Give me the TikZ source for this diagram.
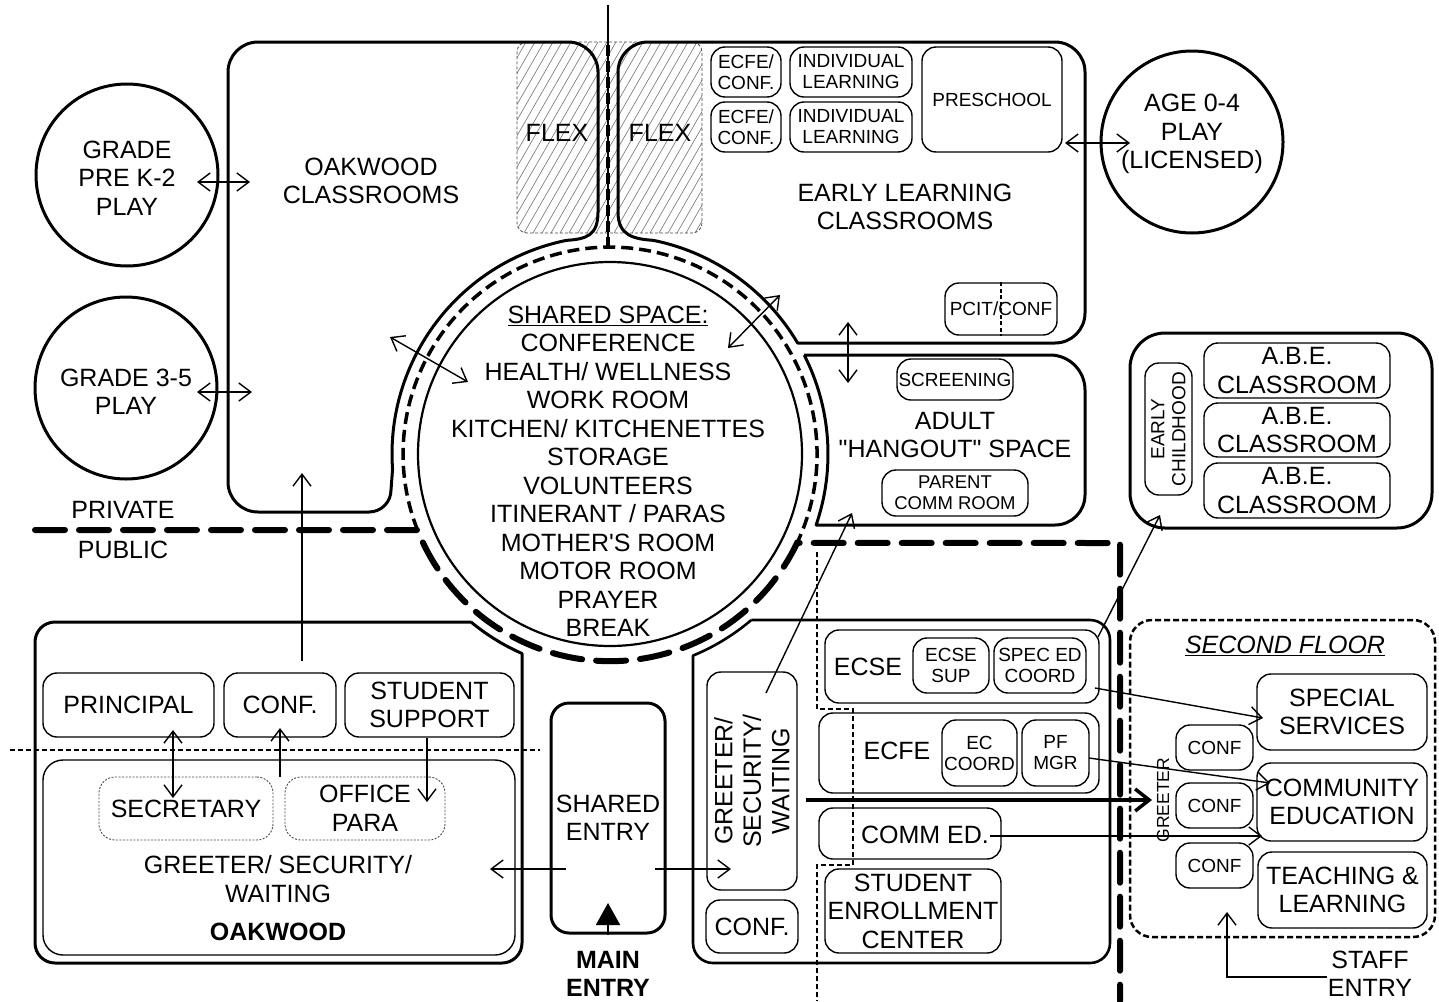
\documentclass[tikz,border=0pt]{standalone}
\usepackage{fontspec}
\setmainfont{Liberation Sans}
\newfontfamily\rawfont{Liberation Sans}
\usetikzlibrary{arrows.meta}
\tikzset{
  wall/.style={line width=3pt, line join=round},
  big/.style={font=\fontsize{25}{28.5}\selectfont, align=center, inner sep=0pt},
  sm/.style={font=\fontsize{19}{21}\selectfont, align=center, inner sep=0pt},
  box/.style={draw, line width=1.4pt, rounded corners=14pt, inner sep=0pt},
  dotbox/.style={draw=black!70, line width=0.9pt, dash pattern=on 2pt off 1.5pt, rounded corners=16pt, inner sep=0pt},
  play/.style={draw, circle, line width=3pt, inner sep=0pt, minimum size=182pt},
  arr/.style={line width=1.4pt, -{Straight Barb[length=12pt,width=18pt]}},
  darr/.style={line width=1.4pt, {Straight Barb[length=12pt,width=18pt]}-{Straight Barb[length=12pt,width=18pt]}},
  heavy/.style={line width=6pt, dash pattern=on 30pt off 14pt, line cap=round},
  ringdash/.style={line width=3.5pt, dash pattern=on 12pt off 6pt},
  thindash/.style={line width=2pt, dash pattern=on 5pt off 3pt},
}
\begin{document}
\begin{tikzpicture}[x=1pt,y=-1pt]
\fill[white] (0,0) rectangle (1439,1001);
\useasboundingbox (0,0) rectangle (1439,1001);

% ---------- flex hatched area ----------
\begin{scope}
\clip[rounded corners=10pt] (517,42) rectangle (702,233);
\foreach \i in {0,...,34} \draw[black!55, line width=0.6pt] ({407+9*\i},233) -- ++(110,-191);
\end{scope}
\node[draw=black!70, line width=0.8pt, dash pattern=on 3pt off 2pt, rounded corners=10pt, minimum width=185pt, minimum height=191pt, inner sep=0pt] (flex) at (609.5,137.5) {};
\node[big] (flexA) at (557,133) {FLEX};
\node[big] (flexB) at (660,133) {FLEX};

% ---------- walls ----------
% Oakwood classrooms
\draw[wall] (566.2,240.4) arc[start angle=258.4,end angle=176,radius=218] -- (391,490)
  arc[start angle=0,end angle=90,radius=22] -- (258,512)
  arc[start angle=90,end angle=180,radius=30] -- (228,72)
  arc[start angle=180,end angle=270,radius=30] -- (568,42)
  arc[start angle=270,end angle=360,radius=30] -- (598,212)
  .. controls (598,236) and (586,239) .. (566.2,240.4);
% Early learning
\draw[wall] (653.8,240.4) .. controls (634,239) and (618,236) .. (618,212) -- (618,72)
  arc[start angle=180,end angle=270,radius=30] -- (1055,42)
  arc[start angle=270,end angle=360,radius=30] -- (1085,313)
  arc[start angle=0,end angle=90,radius=30] -- (797.6,343)
  arc[start angle=329.4,end angle=281.6,radius=218];
% Adult hangout
\draw[wall] (804.2,355) -- (1050,355) arc[start angle=270,end angle=360,radius=35] -- (1085,495)
  arc[start angle=0,end angle=90,radius=30] -- (816.1,525)
  arc[start angle=19.0,end angle=-27.0,radius=218];
% Oakwood admin
\draw[wall] (471.1,622) -- (55,622) arc[start angle=270,end angle=180,radius=20] -- (35,943)
  arc[start angle=180,end angle=90,radius=20] -- (502,963)
  arc[start angle=90,end angle=0,radius=20] -- (522,653.5)
  arc[start angle=113.8,end angle=129.6,radius=218];
% Right block
\draw[wall, line width=2.6pt] (751.3,620) -- (1090,620) arc[start angle=270,end angle=360,radius=20] -- (1110,943)
  arc[start angle=0,end angle=90,radius=20] -- (713,963)
  arc[start angle=90,end angle=180,radius=20] -- (693,655.6)
  arc[start angle=67.6,end angle=49.6,radius=218];
% ABE block
\node[draw, wall, rounded corners=35pt, minimum width=302pt, minimum height=195pt, inner sep=0pt] (abeblk) at (1281,430.5) {};

% top divider line
\coordinate (topA) at (608,5);
\coordinate (topB) at (608,247);
\coordinate (topC) at (608,45);
\draw[line width=2.5pt] (topA) -- (topB);
\draw[line width=4.5pt, dash pattern=on 11pt off 5pt] (topC) -- (topB);

% rings
\node[draw, circle, line width=2.2pt, minimum size=384pt, inner sep=0pt] (shared) at (610,454) {};
\draw[ringdash] (417.5,530) arc[start angle=158.5,end angle=385.4,radius=207];
\draw[heavy] (35,530) -- (417.5,530) arc[start angle=158.5,end angle=25.4,radius=207] -- (1120,543) -- (1120,1001);

% thin dashed lines
\draw[thindash] (817,552) -- (817,709) -- (853,709) -- (853,865) -- (817,865) -- (817,1001);
\draw[thindash] (10,750) -- (540,750);

% ---------- play circles ----------
\node[play] (k2) at (127,175) {};
\node[big] (k2t) at (127,178) {GRADE\\PRE K-2\\PLAY};
\node[play] (g35) at (126,388) {};
\node[big] (g35t) at (126,392) {GRADE 3-5\\PLAY};
\node[play] (age) at (1192,142) {};
\node[big] (aget) at (1192,134) {AGE 0-4\\PLAY\\(LICENSED)};

% ---------- big room labels ----------
\node[big] (oakcl) at (371,181) {OAKWOOD\\CLASSROOMS};
\node[big] (elc) at (905,207) {EARLY LEARNING\\CLASSROOMS};
\node[big, font=\fontsize{25}{28.5}\rawfont] (hang) at (955,435) {ADULT\\"HANGOUT" SPACE};
\node[big, font=\fontsize{25}{28.5}\rawfont] (sharedt) at (608,471.5) {\underline{SHARED SPACE:}\\CONFERENCE\\HEALTH/ WELLNESS\\WORK ROOM\\KITCHEN/ KITCHENETTES\\STORAGE\\VOLUNTEERS\\ITINERANT / PARAS\\MOTHER'S ROOM\\MOTOR ROOM\\PRAYER\\BREAK};
\node[big] (priv) at (123,510) {PRIVATE};
\node[big] (publ) at (123,550) {PUBLIC};

% ---------- early learning rooms ----------
\node[box, sm, minimum width=70pt, minimum height=50pt] (ecfeA) at (746,72) {ECFE/\\CONF.};
\node[box, sm, minimum width=122pt, minimum height=50pt] (indA) at (851,72) {INDIVIDUAL\\LEARNING};
\node[box, sm, minimum width=70pt, minimum height=50pt] (ecfeB) at (746,127) {ECFE/\\CONF.};
\node[box, sm, minimum width=122pt, minimum height=50pt] (indB) at (851,127) {INDIVIDUAL\\LEARNING};
\node[box, sm, minimum width=140pt, minimum height=105pt] (presch) at (992,99.5) {PRESCHOOL};
\node[box, sm, minimum width=112pt, minimum height=52pt] (pcit) at (1001,309) {PCIT/CONF};
\draw[line width=1.1pt, dash pattern=on 4pt off 2.5pt] (pcit.north) -- (pcit.south);

% ---------- hangout rooms ----------
\node[box, sm, minimum width=116pt, minimum height=41pt] (screen) at (955,379.5) {SCREENING};
\node[box, font=\fontsize{18.5}{21}\selectfont, align=center, minimum width=146pt, minimum height=46pt] (parent) at (955,493) {PARENT\\COMM ROOM};

% ---------- ABE ----------
\node[box, sm, rotate=90, minimum width=132pt, minimum height=47pt] (ec) at (1168.5,429) {EARLY\\CHILDHOOD};
\node[box, big, minimum width=186pt, minimum height=55pt] (abeA) at (1297,370.5) {A.B.E.\\CLASSROOM};
\node[box, big, minimum width=186pt, minimum height=54pt] (abeB) at (1297,430) {A.B.E.\\CLASSROOM};
\node[box, big, minimum width=186pt, minimum height=55pt] (abeC) at (1297,490.5) {A.B.E.\\CLASSROOM};

% ---------- Oakwood admin ----------
\node[box, big, minimum width=171pt, minimum height=64pt] (princ) at (128.5,705) {PRINCIPAL};
\node[box, big, minimum width=112pt, minimum height=64pt] (confO) at (280,705) {CONF.};
\node[box, big, minimum width=169pt, minimum height=64pt] (studsup) at (429.5,705) {STUDENT\\SUPPORT};
\node[box, rounded corners=20pt, minimum width=472pt, minimum height=195pt] (greetO) at (279,857.5) {};
\node[dotbox, big, minimum width=174pt, minimum height=63pt] (secr) at (186,808.5) {SECRETARY};
\node[dotbox, big, minimum width=160pt, minimum height=63pt] (opara) at (365,808.5) {OFFICE\\PARA};
\node[big] (greetOt) at (278,879) {GREETER/ SECURITY/\\WAITING};
\node[font=\fontsize{25}{28.5}\selectfont\bfseries, inner sep=0pt] (oak) at (278,932) {OAKWOOD};

% ---------- shared entry ----------
\node[draw, line width=3pt, rounded corners=18pt, minimum width=114pt, minimum height=230pt, big] (sentry) at (608,818) {SHARED\\ENTRY};
\node[font=\fontsize{25}{28.5}\selectfont\bfseries, align=center, inner sep=0pt] (mainent) at (608,974) {MAIN\\ENTRY};

% ---------- right block ----------
\node[box, big, rotate=90, minimum width=218pt, minimum height=90pt] (greetR) at (752,781) {GREETER/\\SECURITY/\\WAITING};
\node[box, big, minimum width=92pt, minimum height=53pt] (confR) at (752,926.5) {CONF.};
\node[box, minimum width=274pt, minimum height=73pt] (ecse) at (962,666.5) {};
\node[big] (ecset) at (868,667) {ECSE};
\node[box, sm, minimum width=76pt, minimum height=55pt] (ecsesup) at (951,665.5) {ECSE\\SUP};
\node[box, sm, minimum width=92pt, minimum height=55pt] (speced) at (1040,665.5) {SPEC ED\\COORD};
\node[box, minimum width=280pt, minimum height=80pt] (ecfe) at (959,753) {};
\node[big] (ecfet) at (897,751) {ECFE};
\node[box, sm, minimum width=75pt, minimum height=66pt] (eccoord) at (979.5,753) {EC\\COORD};
\node[box, sm, minimum width=67pt, minimum height=66pt] (pfmgr) at (1055.5,753) {PF\\MGR};
\node[box, minimum width=182pt, minimum height=51pt] (commed) at (910,833.5) {};
\node[big] (commedt) at (925,835) {COMM ED.};
\node[box, big, minimum width=176pt, minimum height=84pt] (senroll) at (913,911) {STUDENT\\ENROLLMENT\\CENTER};

% ---------- second floor ----------
\node[draw, line width=2.5pt, dash pattern=on 6pt off 3pt, rounded corners=22pt, minimum width=305pt, minimum height=317pt, inner sep=0pt] (sfloor) at (1282.5,778.5) {};
\node[font=\fontsize{25}{28.5}\selectfont\itshape, inner sep=0pt] (sftitle) at (1285,646) {\underline{SECOND FLOOR}};
\node[box, big, minimum width=170pt, minimum height=76pt] (specserv) at (1342,712) {SPECIAL\\SERVICES};
\node[box, big, minimum width=170pt, minimum height=78pt] (commedu) at (1342,802) {COMMUNITY\\EDUCATION};
\node[box, big, minimum width=169pt, minimum height=76pt] (teach) at (1342.5,890) {TEACHING \&\\LEARNING};
\node[box, sm, minimum width=77pt, minimum height=45pt] (confA) at (1214.5,747.5) {CONF};
\node[box, sm, minimum width=77pt, minimum height=45pt] (confB) at (1214.5,805.5) {CONF};
\node[box, sm, minimum width=77pt, minimum height=45pt] (confC) at (1214.5,865.5) {CONF};
\node[font=\fontsize{17.5}{20}\selectfont, rotate=90, inner sep=0pt] (greet2) at (1163,800) {GREETER};
\node[big] (staff) at (1370,974) {STAFF\\ENTRY};

% ---------- connectors ----------
\coordinate (k2a) at (197,182); \coordinate (k2b) at (250,182);
\draw[darr] (k2a) -- (k2b);
\coordinate (g35a) at (197,392); \coordinate (g35b) at (252,392);
\draw[darr] (g35a) -- (g35b);
\coordinate (agea) at (1065,143); \coordinate (ageb) at (1130,143);
\draw[darr] (agea) -- (ageb);
\coordinate (shl1) at (390,337); \coordinate (shl2) at (468,382);
\draw[darr] (shl1) -- (shl2);
\coordinate (shr1) at (728,348); \coordinate (shr2) at (780,295);
\draw[darr] (shr1) -- (shr2);
\coordinate (elh1) at (848,322); \coordinate (elh2) at (848,383);
\draw[darr] (elh1) -- (elh2);
\coordinate (oakup1) at (302,661); \coordinate (oakup2) at (302,473);
\draw[arr] (oakup1) -- (oakup2);
\coordinate (gh1) at (766,693); \coordinate (gh2) at (852,513);
\draw[arr] (gh1) -- (gh2);
\coordinate (ea1) at (1098,637); \coordinate (ea2) at (1160,515);
\draw[arr] (ea1) -- (ea2);
\coordinate (ps1) at (173,730); \coordinate (ps2) at (173,798);
\draw[darr] (ps1) -- (ps2);
\coordinate (sc1) at (280,777); \coordinate (sc2) at (280,728);
\draw[arr] (sc1) -- (sc2);
\coordinate (so1) at (427,738); \coordinate (so2) at (427,802);
\draw[arr] (so1) -- (so2);
\coordinate (se1) at (566,869); \coordinate (se2) at (490,869);
\draw[arr] (se1) -- (se2);
\coordinate (se3) at (655,869); \coordinate (se4) at (731,869);
\draw[arr] (se3) -- (se4);
\coordinate (me1) at (608,935); \coordinate (me2) at (608,903);
\draw[line width=2pt, -{Triangle[length=22pt,width=24pt]}] (me1) -- (me2);
\coordinate (thk1) at (806,800); \coordinate (thk2) at (1152,800);
\draw[line width=3.5pt, -{Straight Barb[length=14pt,width=22pt]}] (thk1) -- (thk2);
\coordinate (ss1) at (1095,688); \coordinate (ss2) at (1263,718);
\draw[arr] (ss1) -- (ss2);
\coordinate (pc1) at (1089,758); \coordinate (pc2) at (1270,783);
\draw[arr] (pc1) -- (pc2);
\coordinate (cc1) at (990,836); \coordinate (cc2) at (1262,836);
\draw[arr] (cc1) -- (cc2);
\coordinate (st1) at (1327,977); \coordinate (st2) at (1227,912);
\draw[arr] (st1) -| (st2);
\end{tikzpicture}
\end{document}
